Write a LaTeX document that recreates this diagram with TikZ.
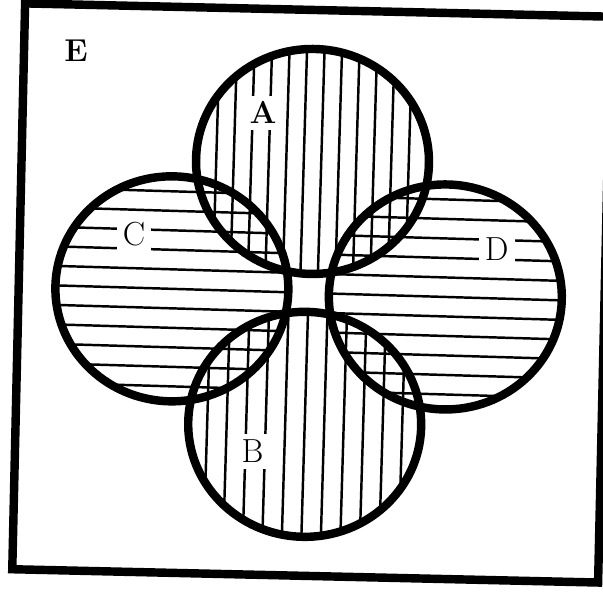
\documentclass[tikz,border=0pt]{standalone}
\usepackage{tikz}
\usetikzlibrary{positioning}

\tikzset{
  setline/.style={line width=4.8pt},
  hatchline/.style={line width=1.4pt},
  setlabel/.style={fill=white, inner sep=3.5pt, font=\fontsize{19}{22}\selectfont},
  boldlabel/.style={setlabel, font=\fontsize{18}{21}\selectfont\bfseries},
  setradius/.style={x radius=2.33, y radius=2.25},
}

\begin{document}
\begin{tikzpicture}
\useasboundingbox (-6.172,-5.982) rectangle (5.888,5.858);

% Universe E
\begin{scope}[rotate=-1.3]
    \draw[setline] (-5.80,-5.66) rectangle (5.92,5.66);
\end{scope}

% Hatching of the four sets
\begin{scope}[rotate=-1.7]
    \coordinate (A) at (0,2.63);
    \coordinate (B) at (0,-2.63);
    \coordinate (C) at (-2.736,0);
    \coordinate (D) at (2.736,0);

    \begin{scope}
        \clip (A) ellipse [setradius];
        \foreach \x in {-2.275,-1.925,...,2.3}
            \draw[hatchline] (\x,0) -- (\x,5);
    \end{scope}
    \begin{scope}
        \clip (B) ellipse [setradius];
        \foreach \x in {-1.95,-1.56,...,2}
            \draw[hatchline] (\x,-5) -- (\x,0);
    \end{scope}
    \begin{scope}
        \clip (C) ellipse [setradius];
        \foreach \y in {-1.95,-1.56,...,2}
            \draw[hatchline] (-5,\y) -- (0,\y);
    \end{scope}
    \begin{scope}
        \clip (D) ellipse [setradius];
        \foreach \y in {-1.95,-1.56,...,2}
            \draw[hatchline] (0,\y) -- (5,\y);
    \end{scope}
\end{scope}

% Labels
\node[boldlabel] (labE) at (-4.65,4.84) {E};
\node[boldlabel] (labA) at (-0.91,3.60) {A};
\node[setlabel] (labC) at (-3.49,1.18) {C};
\node[setlabel] (labD) at (3.76,0.88) {D};
\node[setlabel] (labB) at (-1.12,-3.17) {B};

% Outlines
\begin{scope}[rotate=-1.7]
    \foreach \s in {A,B,C,D}
        \draw[setline] (\s) ellipse [setradius];
\end{scope}

\end{tikzpicture}
\end{document}
